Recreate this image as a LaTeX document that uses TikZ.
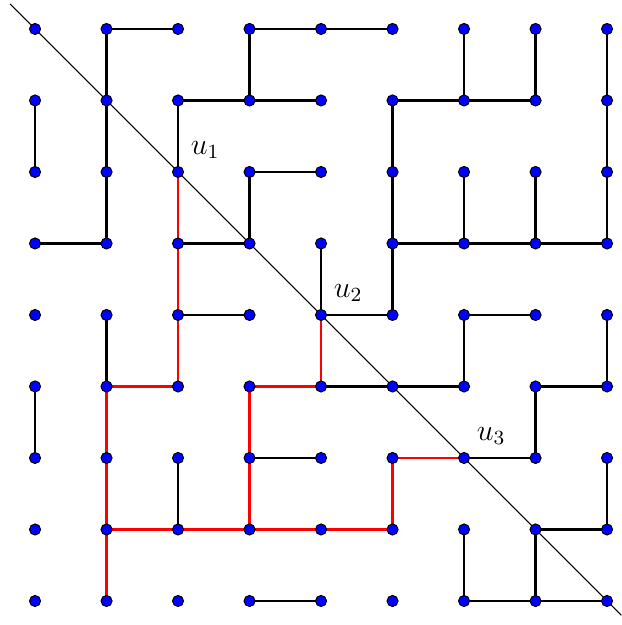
\documentclass[tikz,border=0pt]{standalone}
\usepackage{amsmath}
\usepackage{tikz}
\usetikzlibrary{positioning, backgrounds}
\tikzset{
  pt/.style={circle, draw=black, fill=blue, inner sep=0pt, minimum size=4.4pt, line width=0.4pt},
  tree/.style={line width=1.1pt, black},
  path/.style={line width=1.1pt, red},
  diag/.style={line width=0.4pt, black},
  lbl/.style={font=\large}
}

\begin{document}
\begin{tikzpicture}
  \useasboundingbox (-0.49,0.405) rectangle (8.196,-8.336);
  % grid points
  \foreach \x in {0,...,8}
    \foreach \y in {0,...,8}
      \node[pt] (n\x\y) at (\x,-\y) {};
  \coordinate (dstart) at (-0.35,0.35);
  \coordinate (dend) at (8.2,-8.2);
  \begin{scope}[on background layer]
    \draw[diag] (dstart) -- (dend);
    % spanning tree, horizontal edges
    \draw[tree] (n10.center) -- (n20.center) (n30.center) -- (n40.center) -- (n50.center)
      (n21.center) -- (n31.center) -- (n41.center) (n51.center) -- (n61.center) -- (n71.center)
      (n32.center) -- (n42.center)
      (n03.center) -- (n13.center) (n23.center) -- (n33.center)
      (n53.center) -- (n63.center) -- (n73.center) -- (n83.center)
      (n24.center) -- (n34.center) (n44.center) -- (n54.center) (n64.center) -- (n74.center)
      (n45.center) -- (n55.center) -- (n65.center) (n75.center) -- (n85.center)
      (n36.center) -- (n46.center) (n66.center) -- (n76.center)
      (n77.center) -- (n87.center)
      (n38.center) -- (n48.center) (n68.center) -- (n78.center) -- (n88.center);
    % spanning tree, vertical edges
    \draw[tree] (n10.center) -- (n13.center) (n30.center) -- (n31.center)
      (n60.center) -- (n61.center) (n70.center) -- (n71.center) (n80.center) -- (n83.center)
      (n01.center) -- (n02.center) (n21.center) -- (n22.center) (n51.center) -- (n54.center)
      (n32.center) -- (n33.center) (n62.center) -- (n63.center) (n72.center) -- (n73.center)
      (n43.center) -- (n44.center)
      (n14.center) -- (n15.center) (n64.center) -- (n65.center) (n84.center) -- (n85.center)
      (n05.center) -- (n06.center) (n75.center) -- (n76.center)
      (n26.center) -- (n27.center) (n86.center) -- (n87.center)
      (n67.center) -- (n68.center) (n77.center) -- (n78.center);
    % paths in red
    \draw[path] (n22.center) -- (n25.center) -- (n15.center) -- (n18.center);
    \draw[path] (n44.center) -- (n45.center) -- (n35.center) -- (n37.center);
    \draw[path] (n17.center) -- (n57.center) -- (n56.center) -- (n66.center);
  \end{scope}
  % labels
  \node[lbl] (u1) at ([xshift=0.38cm, yshift=0.31cm]n22.center) {$u_1$};
  \node[lbl] (u2) at ([xshift=0.38cm, yshift=0.31cm]n44.center) {$u_2$};
  \node[lbl] (u3) at ([xshift=0.38cm, yshift=0.31cm]n66.center) {$u_3$};
\end{tikzpicture}
\end{document}
